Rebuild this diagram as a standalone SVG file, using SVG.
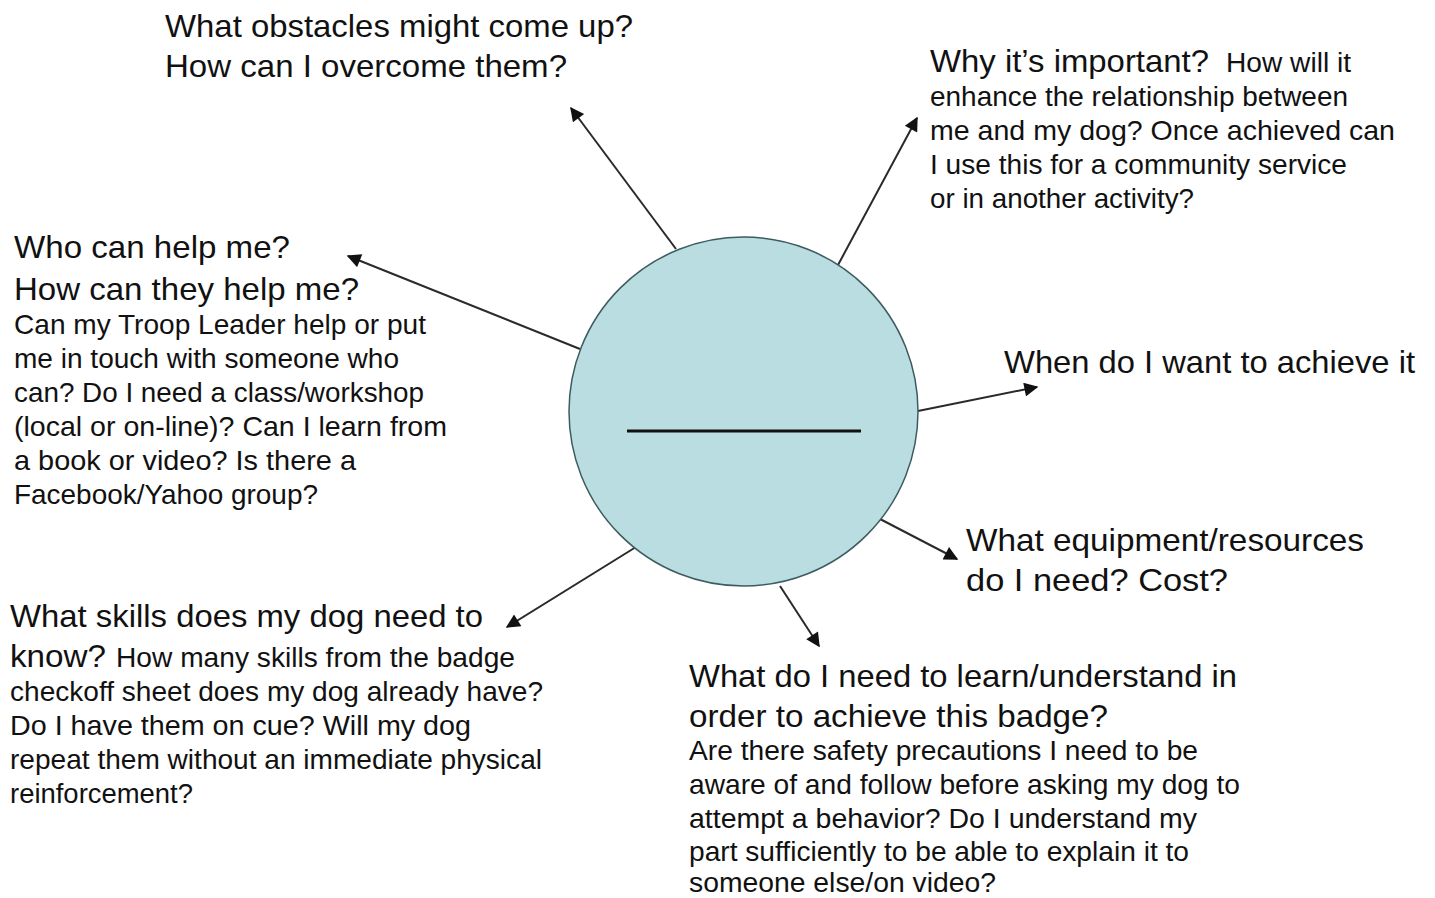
<svg xmlns="http://www.w3.org/2000/svg" width="1435" height="898" viewBox="0 0 1435 898">
<style>
text{font-family:"Liberation Sans",Arial,sans-serif;fill:#111}
.h{font-size:32px}
.b{font-size:27.5px}
.c{stroke:#2a2a2a;stroke-width:2;fill:none;marker-end:url(#ah)}
</style>
<defs>
<marker id="ah" viewBox="0 0 10 10" refX="9" refY="5" markerWidth="8" markerHeight="7" markerUnits="strokeWidth" orient="auto">
<path d="M0,0 L10,5 L0,10 z" fill="#111"/>
</marker>
</defs>
<rect width="1435" height="898" fill="#fff"/>
<g id="connectors">
<line class="c" x1="676" y1="249" x2="571" y2="108"/>
<line class="c" x1="838" y1="265" x2="917" y2="118"/>
<line class="c" x1="918" y1="411" x2="1037" y2="387"/>
<line class="c" x1="880" y1="519" x2="957" y2="559"/>
<line class="c" x1="780" y1="586" x2="819" y2="646"/>
<line class="c" x1="636" y1="547" x2="507" y2="627"/>
<line class="c" x1="580" y1="349" x2="348" y2="256"/>
</g>
<g id="center">
<circle cx="743.5" cy="411.5" r="174.5" fill="#b9dde1" stroke="#3d5b60" stroke-width="1.5"/>
<line x1="627" y1="431" x2="861" y2="431" stroke="#111" stroke-width="3"/>
</g>
<g id="obstacles">
<text class="h" x="165" y="37" textLength="468" lengthAdjust="spacingAndGlyphs">What obstacles might come up?</text>
<text class="h" x="165" y="77" textLength="402" lengthAdjust="spacingAndGlyphs">How can I overcome them?</text>
</g>
<g id="important">
<text class="h" x="930" y="72" textLength="279" lengthAdjust="spacingAndGlyphs">Why it’s important?</text>
<text class="b" x="1226" y="72" textLength="125" lengthAdjust="spacingAndGlyphs">How will it</text>
<text class="b" x="930" y="106" textLength="418" lengthAdjust="spacingAndGlyphs">enhance the relationship between</text>
<text class="b" x="930" y="140" textLength="465" lengthAdjust="spacingAndGlyphs">me and my dog?  Once achieved can</text>
<text class="b" x="930" y="174" textLength="417" lengthAdjust="spacingAndGlyphs">I use this for a community  service</text>
<text class="b" x="930" y="208" textLength="264" lengthAdjust="spacingAndGlyphs">or in another activity?</text>
</g>
<g id="help">
<text class="h" x="14" y="258" textLength="276" lengthAdjust="spacingAndGlyphs">Who can help me?</text>
<text class="h" x="14" y="300" textLength="345" lengthAdjust="spacingAndGlyphs">How can they help me?</text>
<text class="b" x="14" y="334" textLength="412" lengthAdjust="spacingAndGlyphs">Can my Troop Leader help or put</text>
<text class="b" x="14" y="368" textLength="385" lengthAdjust="spacingAndGlyphs">me in touch  with someone who</text>
<text class="b" x="14" y="402" textLength="410" lengthAdjust="spacingAndGlyphs">can? Do I need a class/workshop</text>
<text class="b" x="14" y="436" textLength="433" lengthAdjust="spacingAndGlyphs">(local or on-line)?  Can I learn from</text>
<text class="b" x="14" y="470" textLength="342" lengthAdjust="spacingAndGlyphs">a book or video?  Is there a</text>
<text class="b" x="14" y="504" textLength="304" lengthAdjust="spacingAndGlyphs">Facebook/Yahoo group?</text>
</g>
<g id="when">
<text class="h" x="1004" y="373" textLength="411" lengthAdjust="spacingAndGlyphs">When do I want to achieve it</text>
</g>
<g id="equipment">
<text class="h" x="966" y="551" textLength="398" lengthAdjust="spacingAndGlyphs">What equipment/resources</text>
<text class="h" x="966" y="591" textLength="262" lengthAdjust="spacingAndGlyphs">do I need?  Cost?</text>
</g>
<g id="skills">
<text class="h" x="10" y="627" textLength="473" lengthAdjust="spacingAndGlyphs">What skills does my dog need to</text>
<text class="h" x="10" y="667" textLength="96" lengthAdjust="spacingAndGlyphs">know?</text>
<text class="b" x="116" y="667" textLength="399" lengthAdjust="spacingAndGlyphs">How many skills from the badge</text>
<text class="b" x="10" y="701" textLength="533" lengthAdjust="spacingAndGlyphs">checkoff sheet does my dog already have?</text>
<text class="b" x="10" y="735" textLength="461" lengthAdjust="spacingAndGlyphs">Do I have them on cue?  Will my dog</text>
<text class="b" x="10" y="769" textLength="532" lengthAdjust="spacingAndGlyphs">repeat them without  an immediate physical</text>
<text class="b" x="10" y="803" textLength="183" lengthAdjust="spacingAndGlyphs">reinforcement?</text>
</g>
<g id="learn">
<text class="h" x="689" y="687" textLength="548" lengthAdjust="spacingAndGlyphs">What do I need to learn/understand in</text>
<text class="h" x="689" y="727" textLength="419" lengthAdjust="spacingAndGlyphs">order to achieve this badge?</text>
<text class="b" x="689" y="760" textLength="509" lengthAdjust="spacingAndGlyphs">Are there safety precautions I need to be</text>
<text class="b" x="689" y="794" textLength="551" lengthAdjust="spacingAndGlyphs">aware of and follow before asking my dog to</text>
<text class="b" x="689" y="828" textLength="508" lengthAdjust="spacingAndGlyphs">attempt a behavior?  Do I understand my</text>
<text class="b" x="689" y="861" textLength="500" lengthAdjust="spacingAndGlyphs">part sufficiently  to be able to explain it to</text>
<text class="b" x="689" y="892" textLength="307" lengthAdjust="spacingAndGlyphs">someone else/on video?</text>
</g>
</svg>
